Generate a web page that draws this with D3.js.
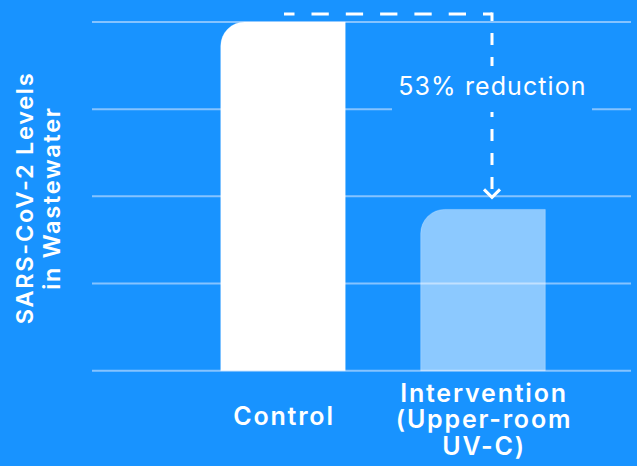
<!DOCTYPE html>
<html><head><meta charset="utf-8">
<script src="https://cdn.jsdelivr.net/npm/d3@7"></script>
<style>
html,body{margin:0;padding:0;background:#1893ff;}
svg{display:block;}
text{font-family:Inter, "Open Sans", sans-serif;fill:#fff;}
</style></head>
<body>
<svg id="chart" width="637" height="466"></svg>
<script>
const categories = ["Control", "Intervention"];
const categoryLabels = [["Control"], ["Intervention", "(Upper-room", "UV-C)"]];
const values = [4, 1.85];
const gridTicks = [0, 1, 2, 3, 4];
const yTitle = ["SARS-CoV-2 Levels", "in Wastewater"];
const annotation = "53% reduction";

const W = 637, H = 466, bg = "#1893ff";
const svg = d3.select("#chart");
svg.append("rect").attr("width", W).attr("height", H).attr("fill", bg);

const x = d3.scaleBand().domain(categories).range([183, 583]).paddingInner(0.377).paddingOuter(0.1885);
const y = d3.scaleLinear().domain([0, 4]).range([370.7, 22]);
const gridX0 = 92, gridX1 = 631;

// gridlines
svg.append("g").selectAll("line").data(gridTicks).join("line")
  .attr("x1", gridX0).attr("x2", gridX1)
  .attr("y1", d => y(d)).attr("y2", d => y(d))
  .attr("stroke", "#85c3ff").attr("stroke-width", 2);

// bars with rounded top-left corner
const r = 24;
function barPath(x0, w, yTop, yBase) {
  const rr = Math.min(r, yBase - yTop);
  return `M${x0},${yBase}V${yTop + rr}A${rr},${rr} 0 0 1 ${x0 + rr},${yTop}H${x0 + w}V${yBase}Z`;
}
svg.append("g").selectAll("path").data(categories).join("path")
  .attr("d", (c, i) => barPath(x(c), x.bandwidth(), y(values[i]), y(0)))
  .attr("fill", "#ffffff")
  .attr("fill-opacity", (c, i) => i === 0 ? 1 : 0.5)
  .attr("stroke", "#ffffff").attr("stroke-opacity", 0.25).attr("stroke-width", 1);

// category labels
const lab = svg.append("g");
categories.forEach((c, i) => {
  const lines = categoryLabels[i];
  const cx = x(c) + x.bandwidth() / 2;
  const lh = 26.5;
  const startY = i === 0 ? 425 : 401.5;
  lines.forEach((t, j) => {
    lab.append("text").attr("x", cx + 1).attr("y", startY + j * lh)
      .attr("text-anchor", "middle").attr("font-size", 25).attr("font-weight", 600)
      .attr("letter-spacing", 1.8)
      .text(t);
  });
});

// y-axis title
const yt = svg.append("g").attr("transform", "translate(0,199) rotate(-90)");
yTitle.forEach((t, j) => {
  yt.append("text").attr("x", 1).attr("y", 33 + j * 27)
    .attr("text-anchor", "middle").attr("font-size", 23.5).attr("font-weight", 600)
    .attr("letter-spacing", 1.7)
    .text(t);
});

// annotation arrow
const ax = x("Intervention") + x.bandwidth() / 2 + 9;
const startX = x("Control") + x.bandwidth() / 2 + 1;
const topY = 14;
const arrowTip = y(values[1]) - 12;
const ann = svg.append("g");
ann.append("path")
  .attr("d", `M${ax},${topY}H${startX}`)
  .attr("fill", "none").attr("stroke", "#fff").attr("stroke-width", 3)
  .attr("stroke-dasharray", "17.3,17").attr("stroke-dashoffset", 8.3);
ann.append("path")
  .attr("d", `M${ax},${topY - 1.5}V${arrowTip - 6}`)
  .attr("fill", "none").attr("stroke", "#fff").attr("stroke-width", 3)
  .attr("stroke-dasharray", "12,12").attr("stroke-dashoffset", 3.5);
ann.append("path")
  .attr("d", `M${ax - 8},${arrowTip - 8}L${ax},${arrowTip}L${ax + 8},${arrowTip - 8}`)
  .attr("fill", "none").attr("stroke", "#fff").attr("stroke-width", 3);
// label with background
const lblY = 94.5;
ann.append("rect").attr("x", ax - 100).attr("y", 66).attr("width", 200).attr("height", 46).attr("fill", bg);
ann.append("text").attr("x", ax + 0.5).attr("y", lblY).attr("text-anchor", "middle")
  .attr("font-size", 25).attr("font-weight", 400).attr("letter-spacing", 1.1).text(annotation);
</script>
</body></html>
